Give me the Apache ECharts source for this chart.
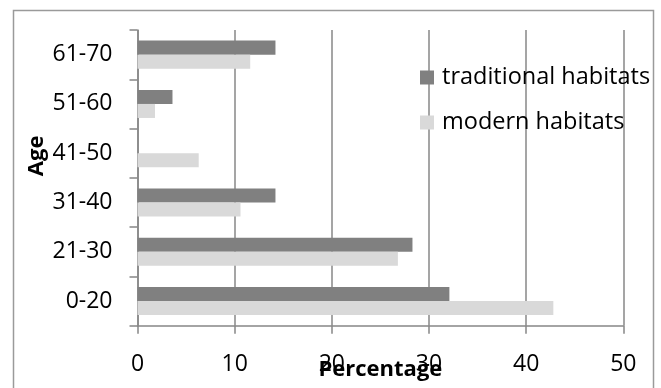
<!DOCTYPE html>
<html>
<head>
<meta charset="utf-8">
<script src="https://cdn.jsdelivr.net/npm/echarts@6/dist/echarts.min.js"></script>
<style>
  html, body { margin: 0; padding: 0; background: #fff; }
  #chart { width: 661px; height: 388px; }
</style>
</head>
<body>
<div id="chart"></div>
<script>
// Age groups, listed from the bottom of the axis upwards
const ageGroups = ['0-20', '21-30', '31-40', '41-50', '51-60', '61-70'];
// Share of respondents (%) per age group
const traditionalHabitats = [32.1, 28.3, 14.2, 0, 3.6, 14.2];
const modernHabitats = [42.8, 26.8, 10.6, 6.3, 1.8, 11.6];
const seriesNames = ['traditional habitats', 'modern habitats'];
const percentTicks = [0, 10, 20, 30, 40, 50];

const FONT = '"Open Sans", sans-serif';
const LINE = '#878787';

const chart = echarts.init(document.getElementById('chart'), null, { renderer: 'canvas' });

chart.setOption({
  animation: false,
  backgroundColor: '#ffffff',
  textStyle: { fontFamily: FONT },
  graphic: [{
    type: 'rect',
    shape: { x: 13.5, y: 10.5, width: 640, height: 400 },
    style: { fill: 'none', stroke: '#9a9a9a', lineWidth: 1.5 },
    silent: true,
    z: -1
  }],
  grid: { left: 137.5, right: 37.7, top: 30, bottom: 62.3, containLabel: false, outerBoundsMode: 'none' },
  legend: {
    data: seriesNames,
    orient: 'vertical',
    left: 420,
    top: 65.5,
    padding: 0,
    itemWidth: 14,
    itemHeight: 14,
    itemGap: 21,
    icon: 'rect',
    textStyle: { fontFamily: FONT, fontSize: 23.5, color: '#000', padding: [0, 0, 0, 3] }
  },
  xAxis: {
    type: 'value',
    min: percentTicks[0],
    max: percentTicks[percentTicks.length - 1],
    interval: percentTicks[1] - percentTicks[0],
    name: 'Percentage',
    nameLocation: 'middle',
    nameGap: 33,
    nameMoveOverlap: false,
    nameTextStyle: { fontFamily: FONT, fontSize: 22, fontWeight: 'bold', color: '#000' },
    axisLine: { show: true, lineStyle: { color: LINE, width: 1.5 } },
    axisTick: { show: true, length: 8, lineStyle: { color: LINE, width: 1.5 } },
    axisLabel: { fontFamily: FONT, fontSize: 23, color: '#000', margin: 27 },
    splitLine: { show: true, lineStyle: { color: LINE, width: 1.5 } }
  },
  yAxis: {
    type: 'category',
    data: ageGroups,
    name: 'Age',
    nameLocation: 'middle',
    nameRotate: 90,
    nameGap: 90,
    nameMoveOverlap: false,
    nameTextStyle: { fontFamily: FONT, fontSize: 22, fontWeight: 'bold', color: '#000', padding: [0, 0, 0, 44] },
    axisLine: { show: true, lineStyle: { color: LINE, width: 1.5 } },
    axisTick: { show: true, length: 8, lineStyle: { color: LINE, width: 1.5 } },
    axisLabel: { fontFamily: FONT, fontSize: 23, color: '#000', margin: 25 },
    splitLine: { show: false }
  },
  series: [
    {
      name: seriesNames[0],
      type: 'bar',
      data: traditionalHabitats,
      itemStyle: { color: '#808080' },
      barGap: '0%',
      barCategoryGap: '43%'
    },
    {
      name: seriesNames[1],
      type: 'bar',
      data: modernHabitats,
      itemStyle: { color: '#d9d9d9' },
      barGap: '0%',
      barCategoryGap: '43%'
    }
  ]
});
</script>
</body>
</html>
